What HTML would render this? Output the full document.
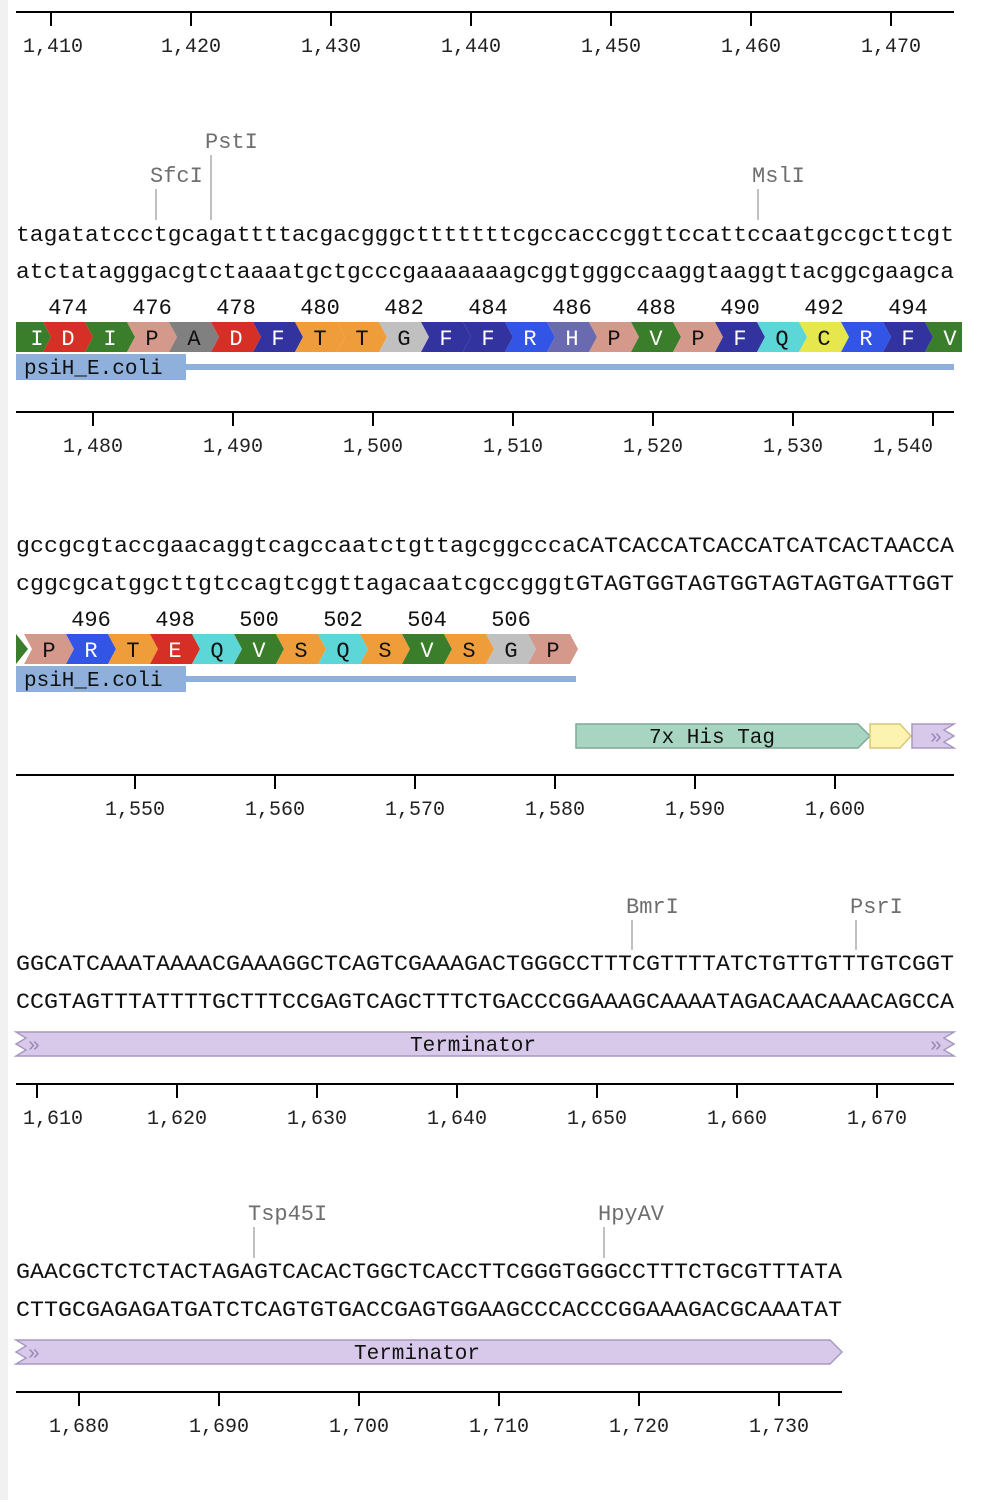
<!DOCTYPE html>
<html><head><meta charset="utf-8"><style>
html,body{margin:0;padding:0;background:#fff;}
svg{display:block;font-family:"Liberation Mono","DejaVu Sans Mono",monospace;}
</style></head><body>
<svg id="map" width="994" height="1500" viewBox="0 0 994 1500">
<rect x="0" y="0" width="8" height="1500" fill="#f1f1f1"/>
<g id="root"></g>
</svg>
<script>
const NS='http://www.w3.org/2000/svg';
const root=document.getElementById('root');
const X0=16, BW=14;
function el(tag,attrs,parent,text){const e=document.createElementNS(NS,tag);for(const k in attrs)e.setAttribute(k,attrs[k]);if(text!==undefined)e.textContent=text;(parent||root).appendChild(e);return e;}

// ---- data ----
const seqTop=[
"tagatatccctgcagattttacgacgggctttttttcgccacccggttccattccaatgccgcttcgt",
"gccgcgtaccgaacaggtcagccaatctgttagcggcccaCATCACCATCACCATCATCACTAACCA",
"GGCATCAAATAAAACGAAAGGCTCAGTCGAAAGACTGGGCCTTTCGTTTTATCTGTTGTTTGTCGGT",
"GAACGCTCTCTACTAGAGTCACACTGGCTCACCTTCGGGTGGGCCTTTCTGCGTTTATA"];
const seqBot=[
"atctatagggacgtctaaaatgctgcccgaaaaaaagcggtgggccaaggtaaggttacggcgaagca",
"cggcgcatggcttgtccagtcggttagacaatcgccgggtGTAGTGGTAGTGGTAGTAGTGATTGGT",
"CCGTAGTTTATTTTGCTTTCCGAGTCAGCTTTCTGACCCGGAAAGCAAAATAGACAACAAACAGCCA",
"CTTGCGAGAGATGATCTCAGTGTGACCGAGTGGAAGCCCACCCGGAAAGACGCAAATAT"];
const seqWidth=[938,938,938,826];
const seqY=[[234,271],[545,583],[963,1001],[1271,1309]];
const axisY=[12,412,775,1084,1392];
const axisEnd=[954,954,954,954,842];
const tickStart=[1410,1480,1550,1610,1680];
const tickFirstX=[51,93,135,37,79];
const tickCount=[7,7,6,7,6];
const aa1="IDIPADFTTGFFRHPVPFQCRFV";
const aa1First=473;
const aa2="PRTEQVSQSVSGP";
const aa2First=495;
const enzymes=[["PstI",211,141,220],["SfcI",156,175,220],["MslI",758,175,220],["BmrI",632,906,950],["PsrI",856,906,950],["Tsp45I",254,1213,1258],["HpyAV",604,1213,1258]];
const aaColors={I:"#3a7d2a",V:"#3a7d2a",D:"#d63026",E:"#d63026",P:"#d4998a",A:"#808080",F:"#3333a0",T:"#ef9d3a",S:"#ef9d3a",G:"#c0c0c0",R:"#3355e6",H:"#6a6ab0",Q:"#5cd6d6",C:"#e6e64d"};
const lightAA="PATGQCS";

// ---- axes ----
for(let i=0;i<axisY.length;i++){
  const ln=el('line',{x1:16,x2:axisEnd[i],y1:axisY[i],y2:axisY[i],stroke:'#000','stroke-width':2});
  
  
  for(let k=0;k<tickCount[i];k++){
    const x=tickFirstX[i]+k*140;
    const t=el('line',{x1:x,x2:x,y1:axisY[i],y2:axisY[i]+14,stroke:'#000','stroke-width':2});
    
    
    const v=tickStart[i]+k*10;
    const lx=Math.min(Math.max(x,53),903);
    const lb=el('text',{x:lx,y:axisY[i]+40,'text-anchor':'middle','font-size':20,fill:'#222'},null,v.toLocaleString('en-US'));
    
    
  }
}
// ---- sequences ----
for(let i=0;i<seqTop.length;i++){
  [[seqTop[i],seqY[i][0],'sequence-top-strand'],[seqBot[i],seqY[i][1],'sequence-bottom-strand']].forEach(([s,y,nm])=>{
    const t=el('text',{x:X0,y:y+7,'font-size':22,fill:'#111',textLength:seqWidth[i],lengthAdjust:'spacingAndGlyphs'},null,s);
    
    
  });
}
// ---- enzymes ----
enzymes.forEach(([n,x,y,y2])=>{
  const t=el('text',{x:x-6,y:y+7,'font-size':22,fill:'#6e6e6e'},null,n);
  
  
  const l=el('line',{x1:x,x2:x,y1:y+14,y2:y2,stroke:'#aaa','stroke-width':1.5});
  
  
});
// ---- translations ----
const D=8;
function drawAA(seq,first,startX,y0,numY,leftTip){
  const g=el('g',{});
  
  
  const y1=y0+30, ym=y0+15;
  if(leftTip){
    const p=el('polygon',{points:`${X0},${y0} ${X0+12},${ym} ${X0},${y1}`,fill:aaColors[leftTip]},g);
    
    
  }
  for(let k=0;k<seq.length;k++){
    const c=seq[k];
    const x=startX+k*42, w=42;
    const p=el('polygon',{points:`${x},${y0} ${x+w},${y0} ${x+w+D},${ym} ${x+w},${y1} ${x},${y1} ${x+D},${ym}`,fill:aaColors[c]},g);
    
    
  }
  for(let k=0;k<seq.length;k++){
    const c=seq[k];
    const x=startX+k*42, w=42;
    const cx=Math.max(x+w/2+4,X0+21);
    const t=el('text',{x:cx,y:ym+8,'text-anchor':'middle','font-size':22,fill:lightAA.includes(c)?'#111':'#fff'},g,c);
    
    
    const num=first+k;
    if(num%2===0){
      const n=el('text',{x:cx,y:numY+7,'text-anchor':'middle','font-size':22,fill:'#111'},g,String(num));
      
      
    }
  }
}
const clip=el('clipPath',{id:'c1'});el('rect',{x:16,y:0,width:946,height:1500},clip);
drawAA(aa1,aa1First,X0-15,322,307,null);
root.lastChild.setAttribute('clip-path','url(#c1)');
drawAA(aa2,aa2First,X0+8,634,619,'V');
// ---- features ----
function feature(y,lineEnd){
  const r=el('rect',{x:16,y:y,width:170,height:26,fill:'#8fb0db'});
  
  
  const t=el('text',{x:24,y:y+20,'font-size':21,fill:'#111'},null,'psiH_E.coli');
  
  
  const l=el('rect',{x:186,y:y+10,width:lineEnd-186,height:6,fill:'#8fb0db'});
  
  
}
feature(354,954);
feature(666,576);
// His tag
let p=el('polygon',{points:'576,724 858,724 870,736 858,748 576,748',fill:'#a8d5c2',stroke:'#7fa898','stroke-width':1.5});

let t=el('text',{x:712,y:743,'text-anchor':'middle','font-size':21,fill:'#111'},null,'7x His Tag');

p=el('polygon',{points:'870,724 900,724 911,736 900,748 870,748',fill:'#fdf3b0',stroke:'#d6c878','stroke-width':1.5});

p=el('polygon',{points:'912,724 954,724 944,730 954,736 944,742 954,748 912,748',fill:'#d8c9ea',stroke:'#a898c0','stroke-width':1.5});

t=el('text',{x:936,y:743,'text-anchor':'middle','font-size':20,fill:'#9888b8'},null,'»');

// Terminators
p=el('polygon',{points:'16,1032 954,1032 944,1038 954,1044 944,1050 954,1056 16,1056 26,1050 16,1044 26,1038',fill:'#d8c9ea',stroke:'#a898c0','stroke-width':1.5});

t=el('text',{x:473,y:1051,'text-anchor':'middle','font-size':21,fill:'#111'},null,'Terminator');

t=el('text',{x:34,y:1051,'text-anchor':'middle','font-size':20,fill:'#9888b8'},null,'»');

t=el('text',{x:936,y:1051,'text-anchor':'middle','font-size':20,fill:'#9888b8'},null,'»');

p=el('polygon',{points:'16,1340 830,1340 842,1352 830,1364 16,1364 26,1358 16,1352 26,1346',fill:'#d8c9ea',stroke:'#a898c0','stroke-width':1.5});

t=el('text',{x:417,y:1359,'text-anchor':'middle','font-size':21,fill:'#111'},null,'Terminator');

t=el('text',{x:34,y:1359,'text-anchor':'middle','font-size':20,fill:'#9888b8'},null,'»');

</script>
</body></html>
